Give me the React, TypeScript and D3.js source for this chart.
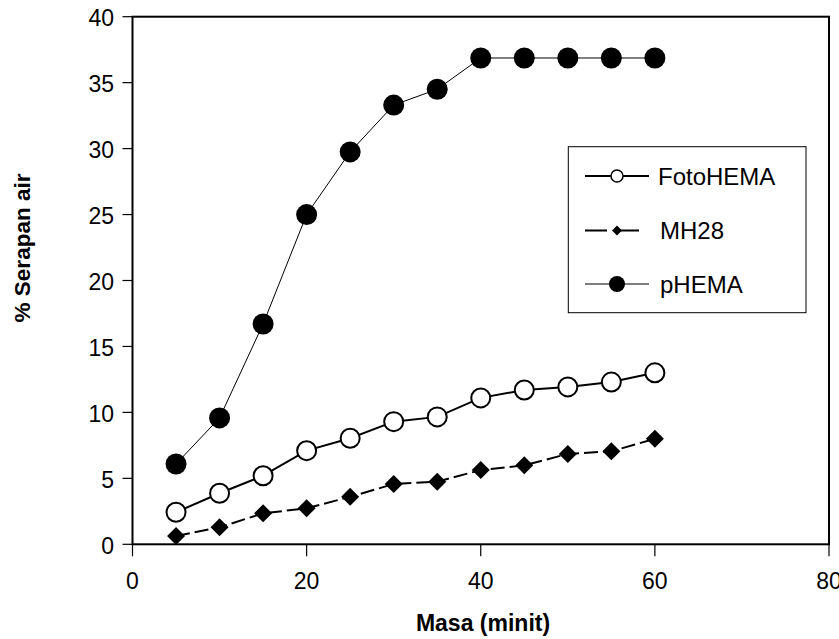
import React from "react";
import * as d3 from "d3";

const masa = [5, 10, 15, 20, 25, 30, 35, 40, 45, 50, 55, 60];
const fotoHEMA = [2.43, 3.87, 5.2, 7.1, 8.04, 9.3, 9.66, 11.1, 11.7, 11.93, 12.3, 13.0];
const mh28 = [0.63, 1.29, 2.35, 2.73, 3.6, 4.57, 4.75, 5.63, 5.99, 6.85, 7.05, 8.0];
const pHEMA = [6.09, 9.58, 16.7, 25.0, 29.75, 33.3, 34.5, 36.87, 36.87, 36.87, 36.87, 36.87];
const xTicks = [0, 20, 40, 60, 80];
const yTicks = [0, 5, 10, 15, 20, 25, 30, 35, 40];
const seriesNames = ["FotoHEMA", "MH28", "pHEMA"];

const W = 839, H = 639;
const L = 132.5, R = 829, T = 16.7, B = 544.3;

export default function App() {
  const x = d3.scaleLinear().domain([0, 80]).range([L, R]);
  const y = d3.scaleLinear().domain([0, 40]).range([B, T]);
  const line = d3.line<number>().x((_, i) => x(masa[i])).y((d) => y(d));
  const font = "Liberation Sans, Arial, sans-serif";
  const diamond = (cx: number, cy: number, s: number) =>
    `M${cx},${cy - s}L${cx + s},${cy}L${cx},${cy + s}L${cx - s},${cy}Z`;

  const legY = [176, 230.5, 284];
  return (
    <svg width={W} height={H} style={{ position: "absolute", left: 0, top: 0 }} fontFamily={font}>
      <rect x={0} y={0} width={W} height={H} fill="#fff" />
      <rect x={L} y={T} width={R - L} height={B - T} fill="none" stroke="#000" strokeWidth={2} />
      {yTicks.map((t) => (
        <g key={"y" + t}>
          <line x1={L - 10} x2={L} y1={y(t)} y2={y(t)} stroke="#000" strokeWidth={1.2} />
          <text x={114} y={y(t) + 1} dy="0.36em" textAnchor="end" fontSize={23}>{t}</text>
        </g>
      ))}
      {xTicks.map((t) => (
        <g key={"x" + t}>
          <line x1={x(t)} x2={x(t)} y1={B} y2={B + 12} stroke="#000" strokeWidth={1.2} />
          <text x={x(t)} y={588.5} textAnchor="middle" fontSize={23}>{t}</text>
        </g>
      ))}
      <text x={483} y={631} textAnchor="middle" fontSize={23} fontWeight="bold">Masa (minit)</text>
      <text transform={`translate(30,248) rotate(-90)`} textAnchor="middle" fontSize={22.5} fontWeight="bold">% Serapan air</text>

      <path d={line(pHEMA) || ""} fill="none" stroke="#000" strokeWidth={1} />
      {pHEMA.map((v, i) => (
        <circle key={"p" + i} cx={x(masa[i])} cy={y(v)} r={10.5} fill="#000" />
      ))}
      <path d={line(fotoHEMA) || ""} fill="none" stroke="#000" strokeWidth={2} />
      {fotoHEMA.map((v, i) => (
        <circle key={"f" + i} cx={x(masa[i])} cy={y(v)} r={9.5} fill="#fff" stroke="#000" strokeWidth={2} />
      ))}
      <path d={line(mh28) || ""} fill="none" stroke="#000" strokeWidth={2} strokeDasharray="14,5" />
      {mh28.map((v, i) => (
        <path key={"m" + i} d={diamond(x(masa[i]), y(v), 9)} fill="#000" />
      ))}

      <rect x={568.3} y={146.7} width={237.7} height={166} fill="#fff" stroke="#000" strokeWidth={1} />
      <line x1={585} x2={649} y1={legY[0]} y2={legY[0]} stroke="#000" strokeWidth={2} />
      <circle cx={617} cy={legY[0]} r={6} fill="#fff" stroke="#000" strokeWidth={1.5} />
      <text x={658} y={legY[0]} dy="0.36em" fontSize={24}>{seriesNames[0]}</text>
      <line x1={585} x2={649} y1={legY[1]} y2={legY[1]} stroke="#000" strokeWidth={2} strokeDasharray="22,10" />
      <path d={diamond(617, legY[1], 5)} fill="#000" />
      <text x={660} y={legY[1]} dy="0.36em" fontSize={24}>{seriesNames[1]}</text>
      <line x1={585} x2={649} y1={legY[2]} y2={legY[2]} stroke="#000" strokeWidth={1} />
      <circle cx={617} cy={legY[2]} r={8} fill="#000" />
      <text x={660} y={legY[2]} dy="0.36em" fontSize={24}>{seriesNames[2]}</text>
    </svg>
  );
}
